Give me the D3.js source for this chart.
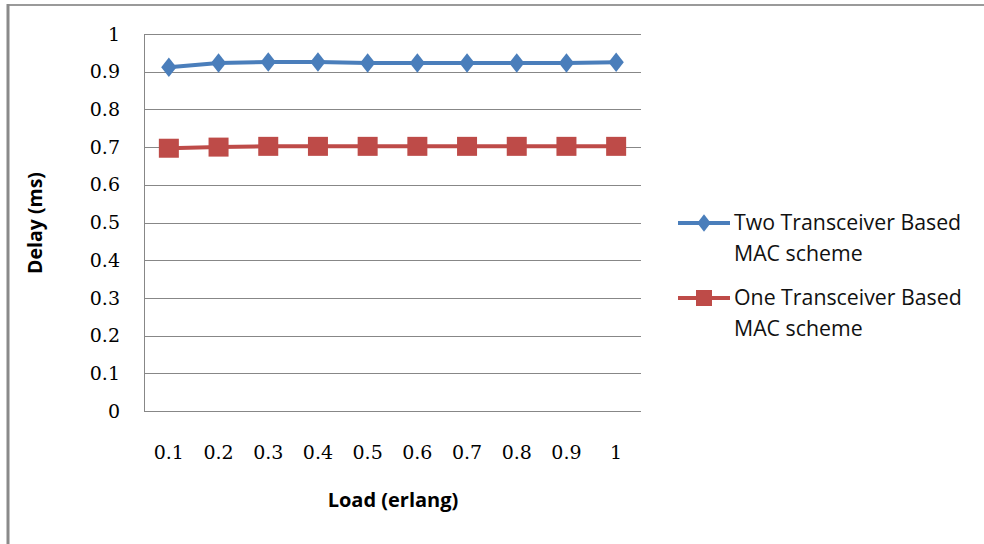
<!DOCTYPE html>
<html>
<head>
<meta charset="utf-8">
<script src="https://cdn.jsdelivr.net/npm/d3@7"></script>
<style>
    body { margin: 0; background: #fff; }
    svg { display: block; }
</style>
</head>
<body>
<svg id="chart" width="984" height="544"></svg>
<script>
var loads = ["0.1", "0.2", "0.3", "0.4", "0.5", "0.6", "0.7", "0.8", "0.9", "1"];
var twoTransceiver = [0.912, 0.923, 0.926, 0.926, 0.923, 0.923, 0.923, 0.923, 0.923, 0.925];
var oneTransceiver = [0.697, 0.700, 0.702, 0.702, 0.702, 0.702, 0.702, 0.702, 0.702, 0.702];
var yTicks = [0, 0.1, 0.2, 0.3, 0.4, 0.5, 0.6, 0.7, 0.8, 0.9, 1];
var seriesNames = [["Two Transceiver Based", "MAC scheme"], ["One Transceiver Based", "MAC scheme"]];

var svg = d3.select("#chart");
var plotLeft = 144, plotRight = 641, plotTop = 34, plotBottom = 411;

// outer frame (only top and left edges show)
svg.append("line").attr("x1", 8).attr("y1", 5).attr("x2", 984).attr("y2", 5)
    .attr("stroke", "#9a9a9a").attr("stroke-width", 2);
svg.append("line").attr("x1", 8).attr("y1", 4).attr("x2", 8).attr("y2", 544)
    .attr("stroke", "#8a8a8a").attr("stroke-width", 3);

var x = d3.scaleBand().domain(loads).range([plotLeft, plotRight]);
var y = d3.scaleLinear().domain([0, 1]).range([plotBottom, plotTop]);

// gridlines
svg.append("g").selectAll("line").data(yTicks).join("line")
    .attr("x1", plotLeft).attr("x2", plotRight)
    .attr("y1", function (d) { return Math.round(y(d)) + .5; })
    .attr("y2", function (d) { return Math.round(y(d)) + .5; })
    .attr("stroke", "#878787").attr("stroke-width", 1);

svg.append("line").attr("x1", plotLeft + .5).attr("x2", plotLeft + .5)
    .attr("y1", plotTop).attr("y2", plotBottom).attr("stroke", "#878787");

// tick labels
var tickFont = "'DejaVu Serif', serif";
svg.append("g").selectAll("text").data(yTicks).join("text")
    .attr("x", 120).attr("y", function (d) { return y(d); })
    .attr("dy", "0.35em").attr("text-anchor", "end")
    .attr("font-family", tickFont).attr("font-size", 19)
    .text(function (d) { return d; });

svg.append("g").selectAll("text").data(loads).join("text")
    .attr("x", function (d) { return x(d) + x.bandwidth() / 2; }).attr("y", 452)
    .attr("dy", "0.35em").attr("text-anchor", "middle")
    .attr("font-family", tickFont).attr("font-size", 19)
    .text(function (d) { return d; });

// axis titles
var titleFont = "'Open Sans', sans-serif";
svg.append("text").attr("x", 393).attr("y", 500).attr("dy", "0.35em")
    .attr("text-anchor", "middle").attr("font-family", titleFont)
    .attr("font-weight", "bold").attr("font-size", 20).text("Load (erlang)");
svg.append("text").attr("transform", "translate(35,223) rotate(-90)").attr("dy", "0.35em")
    .attr("text-anchor", "middle").attr("font-family", titleFont)
    .attr("font-weight", "bold").attr("font-size", 19.5).text("Delay (ms)");

// series
var cx = function (d, i) { return x(loads[i]) + x.bandwidth() / 2; };
var line = d3.line().x(function (d, i) { return cx(d, i); }).y(function (d) { return y(d); });
var blue = "#4a7ebb", red = "#be4b48";

svg.append("path").datum(twoTransceiver).attr("d", line)
    .attr("fill", "none").attr("stroke", blue).attr("stroke-width", 4);
svg.append("g").selectAll("path").data(twoTransceiver).join("path")
    .attr("d", d3.symbol(d3.symbolDiamond, 130))
    .attr("transform", function (d, i) { return "translate(" + cx(d, i) + "," + y(d) + ") scale(1.25,0.92)"; })
    .attr("fill", blue);

svg.append("path").datum(oneTransceiver).attr("d", line)
    .attr("fill", "none").attr("stroke", red).attr("stroke-width", 4);
svg.append("g").selectAll("rect").data(oneTransceiver).join("rect")
    .attr("x", function (d, i) { return cx(d, i) - 10; })
    .attr("y", function (d) { return y(d) - 9.5; })
    .attr("width", 20).attr("height", 19).attr("fill", red);

// legend
var legendFont = "'Open Sans', sans-serif";
var legendY = [223, 298];
var colors = [blue, red];
seriesNames.forEach(function (name, k) {
    var g = svg.append("g");
    g.append("line").attr("x1", 678).attr("x2", 730).attr("y1", legendY[k]).attr("y2", legendY[k])
        .attr("stroke", colors[k]).attr("stroke-width", 4);
    if (k === 0) {
        g.append("path").attr("d", d3.symbol(d3.symbolDiamond, 110))
            .attr("transform", "translate(704," + legendY[k] + ") scale(1.2,0.9)").attr("fill", blue);
    } else {
        g.append("rect").attr("x", 696).attr("y", legendY[k] - 8).attr("width", 16).attr("height", 16).attr("fill", red);
    }
    g.selectAll("text").data(name).join("text")
        .attr("x", 734).attr("y", function (d, j) { return legendY[k] + j * 31; })
        .attr("dy", "0.35em").attr("font-family", legendFont).attr("font-size", 21.3)
        .attr("fill", "#111").text(function (d) { return d; });
});
</script>
</body>
</html>
